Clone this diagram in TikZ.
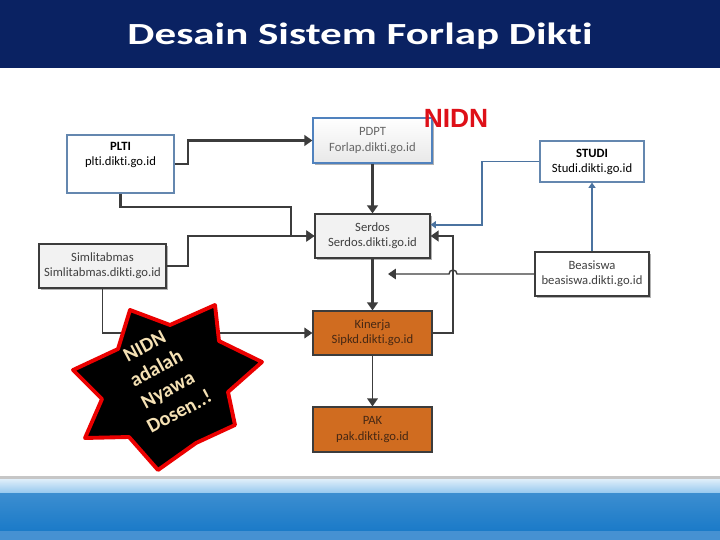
\documentclass[tikz,border=0pt]{standalone}
\usepackage{fontspec}
\setmainfont{Carlito}[Ligatures=NoCommon]
\newfontfamily\arialfont{Liberation Sans}
\usepackage{tikz}
\usetikzlibrary{arrows.meta, shapes.geometric, shadows}
\definecolor{titlenavy}{RGB}{10,34,98}
\definecolor{barblue}{RGB}{26,122,200}
\definecolor{barlight}{RGB}{150,200,238}
\definecolor{baredge}{RGB}{70,145,210}
\definecolor{lineblue}{RGB}{75,115,160}
\definecolor{boxblue}{RGB}{100,135,175}
\definecolor{pdptblue}{RGB}{80,130,190}
\definecolor{kinerjaorange}{RGB}{208,108,32}
\definecolor{kinerjatext}{RGB}{70,40,20}
\definecolor{darkline}{RGB}{60,60,60}
\definecolor{nidnred}{RGB}{222,16,24}
\definecolor{starred}{RGB}{235,0,0}
\definecolor{startext}{RGB}{245,225,180}
\definecolor{boxgray}{RGB}{242,242,242}

\begin{document}
\begin{tikzpicture}[x=0.02cm, y=-0.02cm, >={Triangle[length=4.5pt, width=6pt]},
  boxtext/.style={align=center, font=\fontsize{7.2}{8.6}\selectfont},
  box/.style={boxtext, draw=darkline, line width=0.7pt, inner sep=1pt, text=black!75},
  plainbox/.style={box, draw=boxblue, fill=white, text=black},
  graybox/.style={box, fill=boxgray, drop shadow={shadow xshift=1.3pt, shadow yshift=-1.3pt, fill=black, opacity=0.3}},
  whitebox/.style={graybox, fill=white},
  pdptbox/.style={graybox, draw=pdptblue, top color=white, bottom color=gray!18, text=black!60},
  orangebox/.style={box, fill=kinerjaorange, text=kinerjatext},
  link/.style={->, darkline, line width=1.2pt},
  thinlink/.style={->, darkline, line width=0.8pt},
  bluelink/.style={->, lineblue, line width=1.1pt, >={Triangle[length=3pt, width=4pt]}}]
\useasboundingbox (0,0) rectangle (720,540);
\fill[white] (0,0) rectangle (720,540);
% title bar
\fill[titlenavy] (0,0) rectangle (720,68);
\node[font=\bfseries\fontsize{17.5}{20}\selectfont, text=white, xscale=1.4, transform shape] (title) at (360,36) {Desain Sistem Forlap Dikti};
% bottom bar
\fill[gray!45] (0,476) rectangle (720,480);
\shade[top color=white!70!barlight, bottom color=barlight] (0,479) rectangle (720,493);
\shade[top color=barblue!85!white, bottom color=barblue] (0,493) rectangle (720,531);
\fill[baredge] (0,531) rectangle (720,540);

% boxes
\node[plainbox, minimum width=2.14cm, minimum height=1.16cm,
  label={[boxtext, anchor=north, inner sep=0pt, yshift=-0.15cm]north:{\textbf{PLTI}\\plti.dikti.go.id}}] (plti) at (120.5,164) {};
\node[pdptbox, minimum width=2.38cm, minimum height=0.9cm] (pdpt) at (372.5,140.5) {PDPT\\Forlap.dikti.go.id};
\node[plainbox, minimum width=2.08cm, minimum height=0.82cm] (studi) at (592,161.5) {\textbf{STUDI}\\Studi.dikti.go.id};
\node[graybox, minimum width=2.3cm, minimum height=0.88cm] (serdos) at (372.5,236) {Serdos\\Serdos.dikti.go.id};
\node[graybox, minimum width=2.54cm, minimum height=0.88cm] (simlit) at (102.5,266) {Simlitabmas\\Simlitabmas.dikti.go.id};
\node[whitebox, minimum width=2.28cm, minimum height=0.88cm] (beasiswa) at (592,274) {Beasiswa\\beasiswa.dikti.go.id};
\node[orangebox, minimum width=2.38cm, minimum height=0.88cm] (kinerja) at (372.5,333) {Kinerja\\Sipkd.dikti.go.id};
\node[orangebox, minimum width=2.38cm, minimum height=0.9cm] (pak) at (372.5,429.5) {PAK\\pak.dikti.go.id};
\node[font=\arialfont\bfseries\fontsize{15}{18}\selectfont, text=nidnred] (nidnlabel) at (456,118) {NIDN};

% connectors
\draw[link] (plti.east) -- ++(13,0) |- (pdpt.west);
\draw[link] (plti.south) |- (291,207) |- (serdos.west);
\draw[link] (simlit.east) -- ++(21,0) |- (serdos.west);
\draw[link] (pdpt.south) -- (serdos.north);
\draw[bluelink] (studi.west) -- ++(-57,0) |- (serdos.11);
\draw[bluelink] (beasiswa.north) -- (studi.south);
\coordinate (beasend) at (388,274);
\draw[thinlink] (beasiswa.west) -- (457,274) arc[start angle=0, end angle=180, radius=0.08cm] -- (beasend);
\draw[link] (kinerja.east) -- (453,333) |- (serdos.east);
\draw[link] (serdos.south) -- (kinerja.north);
\draw[thinlink] (simlit.south) |- (kinerja.west);
\draw[thinlink] (kinerja.south) -- (pak.north);

% star
\draw[fill=black, draw=starred, line width=2.2pt, line join=round]
  (130,310) -- (170,325) -- (215,305) -- (219,341) -- (262,362) -- (228,392) -- (235,425)
  -- (196,443) -- (158,470) -- (129,437) -- (85,438) -- (102,399) -- (73,370) -- (118,349) -- cycle;
\node[rotate=28, align=center, text=startext, font=\bfseries\fontsize{11.5}{14}\selectfont] (startxt) at (162,379) {NIDN\\adalah\\Nyawa\\Dosen..!};
\end{tikzpicture}
\end{document}
